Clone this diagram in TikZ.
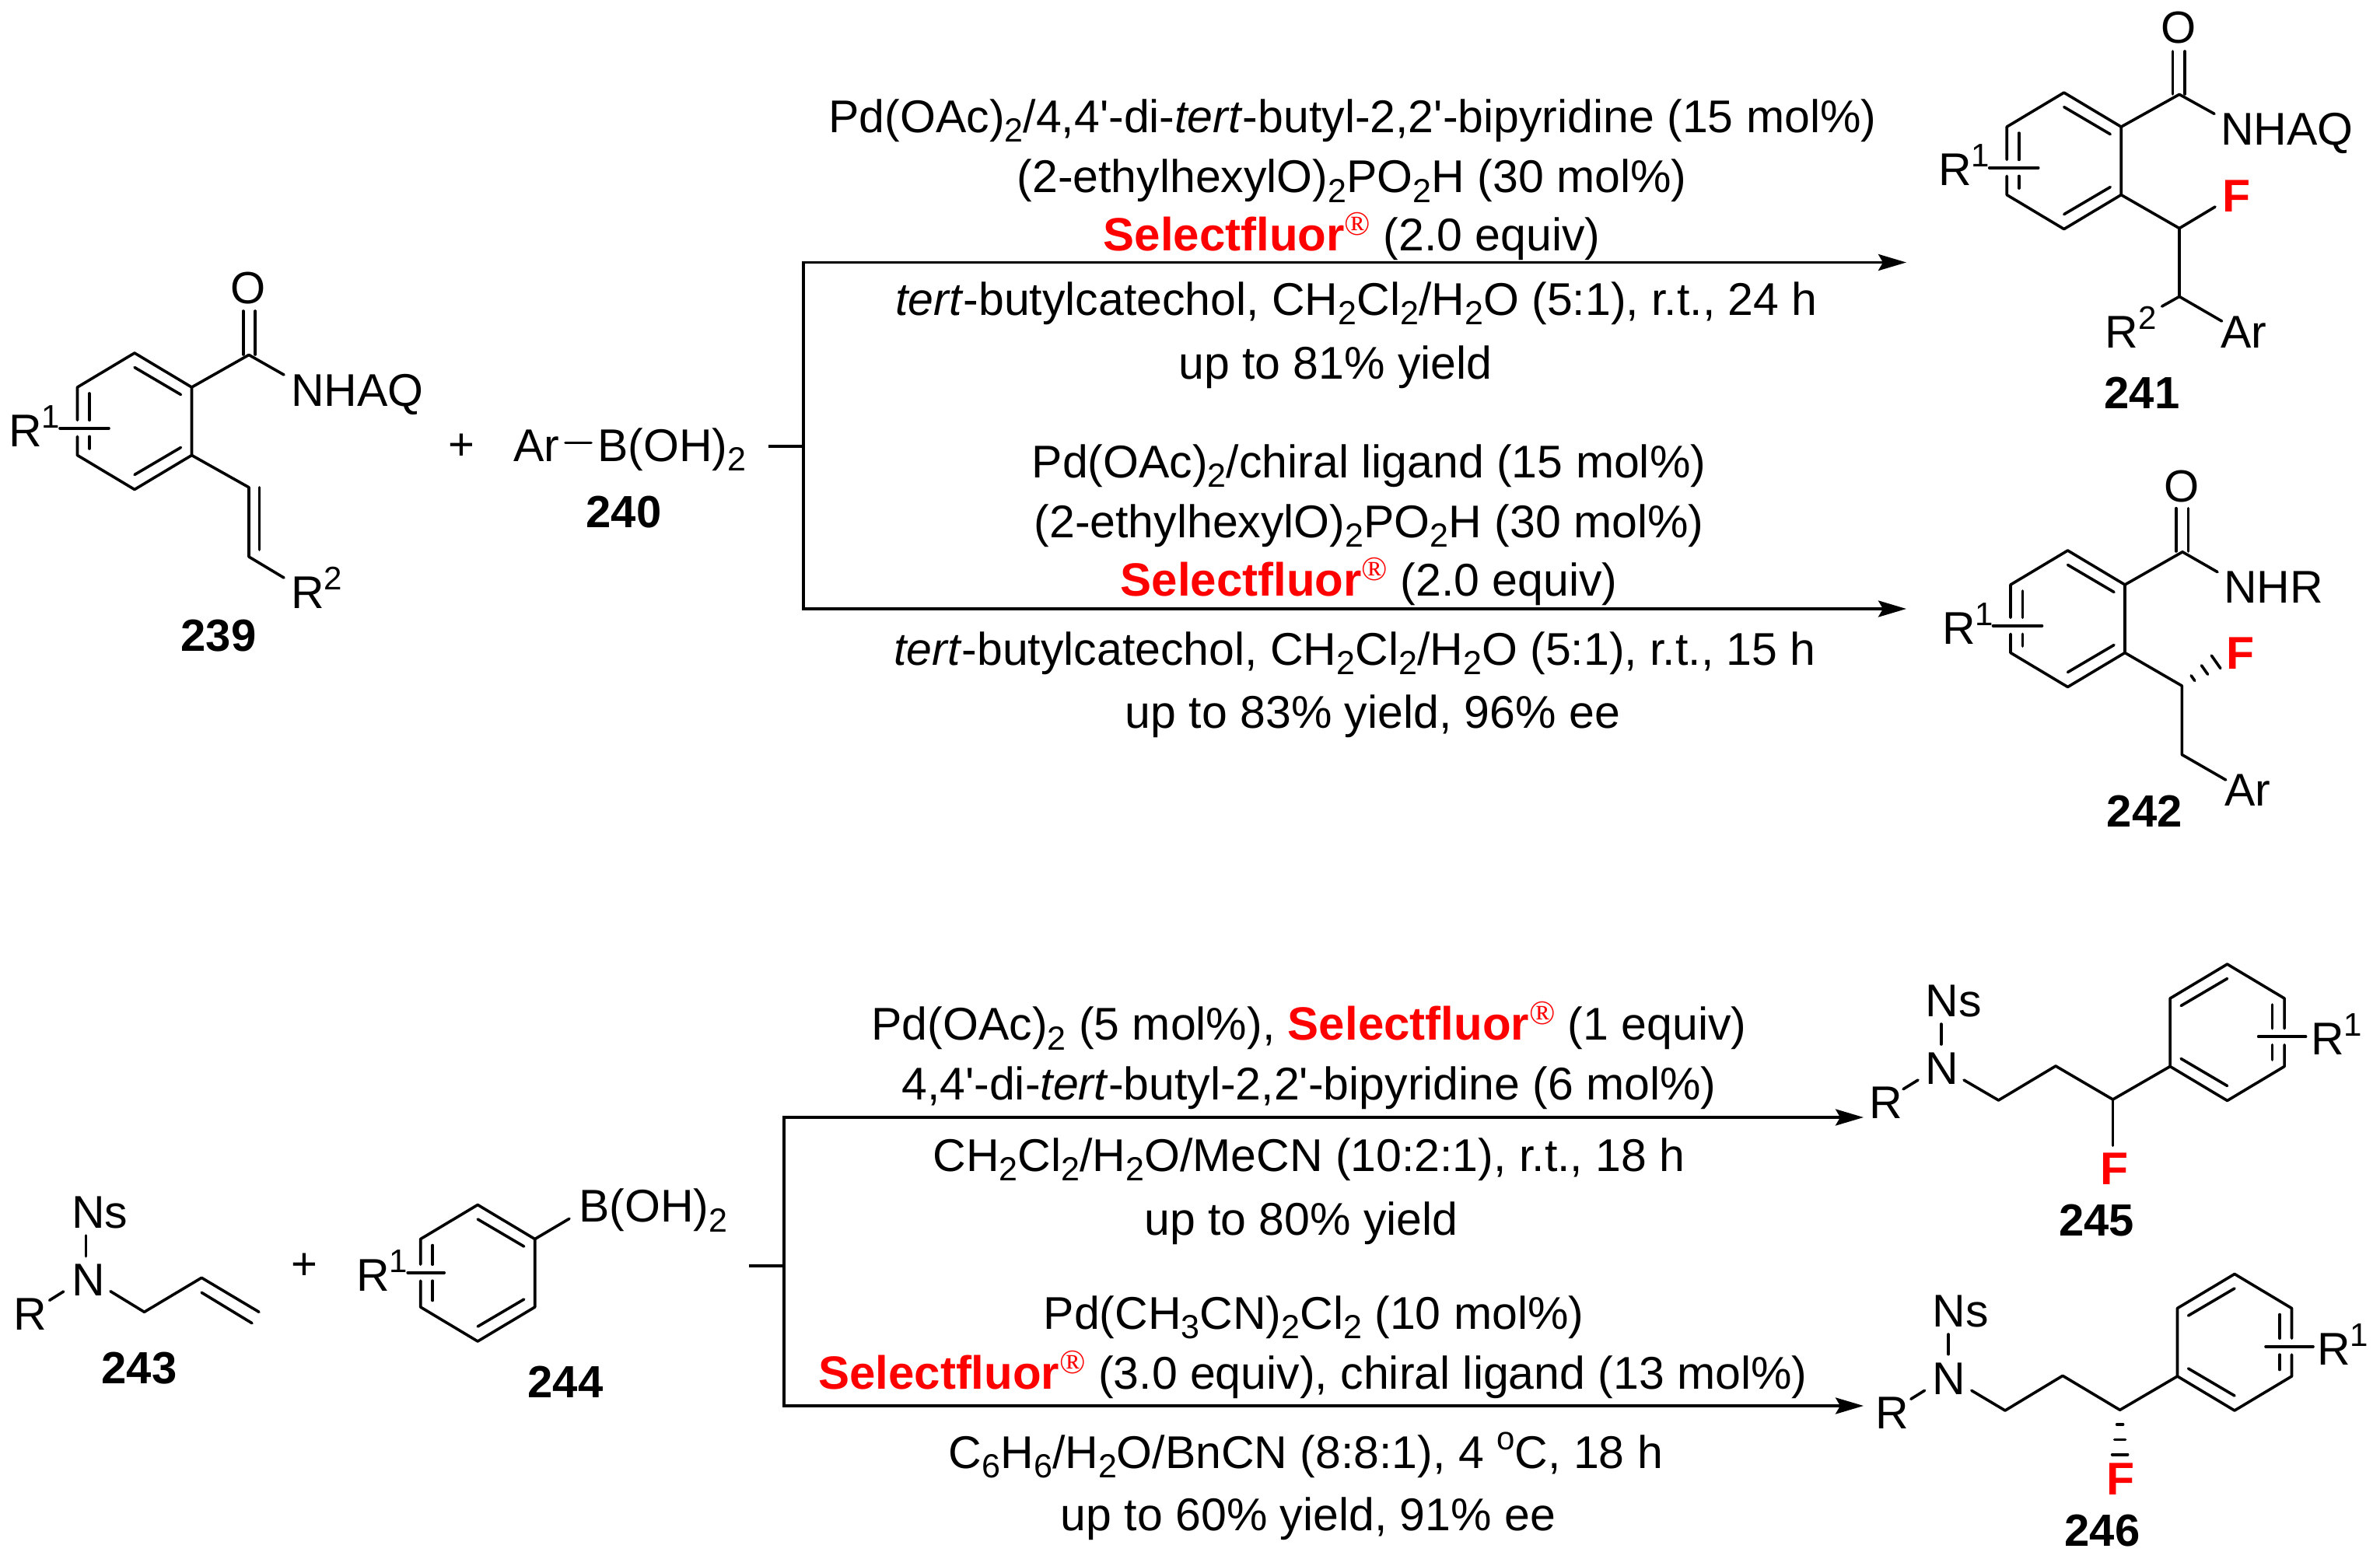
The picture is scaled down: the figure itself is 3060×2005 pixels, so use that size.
\documentclass[tikz,border=0pt]{standalone}
\usepackage{fontspec}
\setmainfont{Liberation Sans}
\newfontfamily\regfont{Liberation Serif}
\newfontfamily\plainsans{Liberation Sans}
\usetikzlibrary{arrows.meta,calc}
\newcommand{\lowr}[1]{\raisebox{-12.5pt}{\fontsize{43}{43}\selectfont #1}}
\newcommand{\uppr}[1]{\raisebox{24pt}{\fontsize{42}{42}\selectfont #1}}
\newcommand{\apos}{{\plainsans'}}
\newcommand{\sfluor}{\textcolor{fluorred}{\fontsize{60}{60}\selectfont\textbf{Selectfluor}\raisebox{20pt}{\fontsize{44}{44}\regfont\textregistered}}}
\definecolor{fluorred}{RGB}{255,0,0}
\tikzset{
  chem/.style = {inner sep=0pt, anchor=base west, xshift=-4pt, font=\fontsize{59}{60}\selectfont},
  rgt/.style = {inner sep=0pt, anchor=base, xshift=-8pt, font=\fontsize{59}{60}\selectfont},
  cpd/.style = {inner sep=0pt, anchor=base, font=\fontsize{58}{60}\selectfont\bfseries},
  sgn/.style = {inner sep=0pt, anchor=base, font=\fontsize{58}{60}\selectfont},
  fluor/.style = {chem, text=fluorred, font=\fontsize{59}{60}\selectfont\bfseries},
  bond/.style = {line width=3.6pt, line cap=round, line join=round},
  rxn/.style = {line width=3.8pt},
  rxnarrow/.style = {rxn, -{Stealth[length=36pt,width=21pt,inset=6pt]}}
}
% ring: name, x, y, flip, y of substituent bond, its near and far end
\newcommand{\benzring}[7]{
  \begin{scope}[shift={(#2,#3)},xscale=#4]
    \coordinate (#11) at (0,-87.5);
    \coordinate (#12) at (73.5,-43.5);
    \coordinate (#13) at (73.5,44);
    \coordinate (#14) at (0,88);
    \coordinate (#15) at (-73.5,44);
    \coordinate (#16) at (-73.5,-43.5);
    \draw[bond] (-73.5,#5-10.5) -- (#16) -- (#11) -- (#12) -- (#13) -- (#14) -- (#15) -- (-73.5,#5+10.5);
    \draw[bond] (-58,-35.5) -- (-58,#5-10.5) (-58,#5+10.5) -- (-58,35.5);
    \draw[bond] (0,-69) -- (59.5,-34) (59.5,34) -- (0,69);
    \draw[bond] (-#7,#5) -- (-#6,#5);
  \end{scope}
}
% hashed bond, three strokes growing towards the far end
\newcommand{\hashbond}[2]{
  \foreach \t/\w in {.30/4pt,.62/7pt,.93/10pt}
    \draw[bond] ($(#1)!\t!(#2)!\w!90:(#2)$) -- ($(#1)!\t!(#2)!\w!-90:(#2)$);
}
\begin{document}
\begin{tikzpicture}[x=1pt,y=-1pt]
  \useasboundingbox (0,0) rectangle (3060,2005);

  % 239
  \benzring{a}{173}{541.5}{1}{9.3}{33}{96}
  \coordinate (aC) at (320,456.4);
  \coordinate (aV1) at (320,626.8);
  \coordinate (aV2) at (320,716);
  \draw[bond] (a2) -- (aC) -- (365,482);
  \draw[bond] (312.8,400) -- (312.8,456) (328.2,400) -- (328.2,456);
  \draw[bond] (a3) -- (aV1) -- (aV2) -- (365,743);
  \draw[bond] (333.5,626.8) -- (333.5,707);
  \node[sgn] (aO) at (319.5,390.5) {O};
  \node[chem] (aNH) at (378,522) {NHAQ};
  \node[chem] (aR2) at (378,782) {R\uppr{2}};
  \node[chem] (aR1) at (15,574) {R\uppr{1}};
  \node[cpd] (n239) at (281,837.5) {239};

  % 240
  \node[sgn] (plusA) at (593,591) {+};
  \node[chem] (arA) at (664,593) {Ar};
  \node[chem] (boA) at (772,593) {B(OH)\lowr{2}};
  \coordinate (arA1) at (727,569.5);
  \coordinate (arA2) at (760,569.5);
  \draw[bond] (arA1) -- (arA2);
  \node[cpd] (n240) at (802,678.5) {240};

  % upper arrows
  \coordinate (u1) at (1033,337.5);
  \coordinate (u2) at (1033,783);
  \coordinate (um) at (1033,574);
  \coordinate (ut) at (988,574);
  \coordinate (ue1) at (2451,337.5);
  \coordinate (ue2) at (2451,783);
  \draw[rxn] (ut) -- (um);
  \draw[rxn,line cap=rect] (u1) -- (u2);
  \draw[rxnarrow] (u1) -- (ue1);
  \draw[rxnarrow] (u2) -- (ue2);

  \node[rgt] (c1a) at (1747,170) {Pd(OAc)\lowr{2}/4,4\apos-di-\textit{tert}-butyl-2,2\apos-bipyridine (15 mol\%)};
  \node[rgt] (c1b) at (1746,247.7) {(2-ethylhexylO)\lowr{2}PO\lowr{2}H (30 mol\%)};
  \node[rgt] (c1c) at (1746,322) {\sfluor{} (2.0 equiv)};
  \node[rgt] (c1d) at (1752,405) {\textit{tert}-butylcatechol, CH\lowr{2}Cl\lowr{2}/H\lowr{2}O (5:1), r.t., 24 h};
  \node[rgt] (c1e) at (1725,487.7) {up to 81\% yield};

  \node[rgt] (c2a) at (1768,614) {Pd(OAc)\lowr{2}/chiral ligand (15 mol\%)};
  \node[rgt] (c2b) at (1768,691) {(2-ethylhexylO)\lowr{2}PO\lowr{2}H (30 mol\%)};
  \node[rgt] (c2c) at (1768,766) {\sfluor{} (2.0 equiv)};
  \node[rgt] (c2d) at (1750,855) {\textit{tert}-butylcatechol, CH\lowr{2}Cl\lowr{2}/H\lowr{2}O (5:1), r.t., 15 h};
  \node[rgt] (c2e) at (1773,936) {up to 83\% yield, 96\% ee};

  % 241
  \benzring{b}{2653.7}{206.6}{1}{9.3}{33}{96}
  \coordinate (bC) at (2802,121.4);
  \coordinate (bF) at (2802,293.6);
  \coordinate (bA) at (2802,381.4);
  \draw[bond] (b2) -- (bC) -- (2847,146.4);
  \draw[bond] (2793.5,66) -- (2793.5,121) (2809,66) -- (2809,121);
  \draw[bond] (b3) -- (bF) -- (bA) -- (2856.6,413);
  \draw[bond] (bF) -- (2848,266);
  \draw[bond] (bA) -- (2779.6,394);
  \node[sgn] (bO) at (2801,55.5) {O};
  \node[chem] (bNH) at (2858.8,186.4) {NHAQ};
  \node[fluor] (bFl) at (2861,272) {F};
  \node[chem] (bAr) at (2859,447.5) {Ar};
  \node[chem] (bR2) at (2710.6,447.5) {R\uppr{2}};
  \node[chem] (bR1) at (2496,238.6) {R\uppr{1}};
  \node[cpd] (n241) at (2754,525) {241};

  % 242
  \benzring{c}{2658.5}{795.5}{1}{9.3}{33}{96}
  \coordinate (cC) at (2806,709.8);
  \coordinate (cF) at (2805.3,882);
  \coordinate (cA) at (2805.3,970.5);
  \coordinate (cH) at (2852.4,849);
  \draw[bond] (c2) -- (cC) -- (2851,735.6);
  \draw[bond] (2797.7,653.7) -- (2797.7,709) (2813.3,653.7) -- (2813.3,709);
  \draw[bond] (c3) -- (cF) -- (cA) -- (2861.7,1003);
  \hashbond{cF}{cH}
  \node[sgn] (cO) at (2805.3,645) {O};
  \node[chem] (cNH) at (2863,775) {NHR};
  \node[fluor] (cFl) at (2866,860.3) {F};
  \node[chem] (cAr) at (2864,1036) {Ar};
  \node[chem] (cR1) at (2501,828) {R\uppr{1}};
  \node[cpd] (n242) at (2757.3,1063.4) {242};

  % 243
  \node[chem] (dNs) at (96,1579.3) {Ns};
  \node[chem] (dN) at (96,1666) {N};
  \node[chem] (dR) at (21.4,1710) {R};
  \coordinate (d1) at (185.5,1687.3);
  \coordinate (d2) at (259.2,1643.3);
  \coordinate (d3) at (333,1687.3);
  \draw[bond] (110.5,1589) -- (110.5,1615.7);
  \draw[bond] (63.6,1672.3) -- (81.7,1661);
  \draw[bond] (142,1660.7) -- (d1) -- (d2) -- (d3);
  \draw[bond] (259.2,1662.3) -- (324,1701.7);
  \node[cpd] (n243) at (179,1779.3) {243};

  % 244
  \node[sgn] (plusB) at (391.8,1645) {+};
  \benzring{e}{614.2}{1637}{1}{-0.3}{43}{90}
  \draw[bond] (e2) -- (732,1567.3);
  \node[chem] (eBo) at (748,1571.7) {B(OH)\lowr{2}};
  \node[chem] (eR1) at (462,1660) {R\uppr{1}};
  \node[cpd] (n244) at (727,1797.3) {244};

  % lower arrows
  \coordinate (l1) at (1008,1437);
  \coordinate (l2) at (1008,1808);
  \coordinate (lm) at (1008,1628);
  \coordinate (lt) at (962.5,1628);
  \coordinate (le1) at (2396,1437);
  \coordinate (le2) at (2396,1808);
  \draw[rxn] (lt) -- (lm);
  \draw[rxn,line cap=rect] (l1) -- (l2);
  \draw[rxnarrow] (l1) -- (le1);
  \draw[rxnarrow] (l2) -- (le2);

  \node[rgt] (c3a) at (1691,1337.6) {Pd(OAc)\lowr{2} (5 mol\%), \sfluor{} (1 equiv)};
  \node[rgt] (c3b) at (1691,1414) {4,4\apos-di-\textit{tert}-butyl-2,2\apos-bipyridine (6 mol\%)};
  \node[rgt] (c3c) at (1691,1506) {CH\lowr{2}Cl\lowr{2}/H\lowr{2}O/MeCN (10:2:1), r.t., 18 h};
  \node[rgt] (c3d) at (1681,1588) {up to 80\% yield};

  \node[rgt] (c4a) at (1697,1709) {Pd(CH\lowr{3}CN)\lowr{2}Cl\lowr{2} (10 mol\%)};
  \node[rgt] (c4b) at (1696,1786) {\sfluor{} (3.0 equiv), chiral ligand (13 mol\%)};
  \node[rgt] (c4c) at (1687,1888) {C\lowr{6}H\lowr{6}/H\lowr{2}O/BnCN (8:8:1), 4 \uppr{o}C, 18 h};
  \node[rgt] (c4d) at (1690,1968) {up to 60\% yield, 91\% ee};

  % 245
  \benzring{f}{2863.6}{1327.5}{-1}{5.7}{40}{101}
  \node[chem] (fNs) at (2479.7,1307.3) {Ns};
  \node[chem] (fN) at (2479.7,1394) {N};
  \node[chem] (fR) at (2407,1438) {R};
  \coordinate (f7) at (2569.5,1415);
  \coordinate (f8) at (2643,1371);
  \coordinate (f9) at (2716.5,1414);
  \draw[bond] (2495.8,1317) -- (2495.8,1343);
  \draw[bond] (2447,1400.7) -- (2466,1389);
  \draw[bond] (2525,1389) -- (f7) -- (f8) -- (f9) -- (f3);
  \draw[bond] (f9) -- (2716.5,1473.3);
  \node[fluor] (fFl) at (2704,1523.3) {F};
  \node[chem] (fR1) at (2975,1356) {R\uppr{1}};
  \node[cpd] (n245) at (2695.5,1589) {245};

  % 246
  \benzring{g}{2873}{1726}{-1}{5.7}{40}{101}
  \node[chem] (gNs) at (2488.4,1706) {Ns};
  \node[chem] (gN) at (2488.4,1793.3) {N};
  \node[chem] (gR) at (2415.6,1837.3) {R};
  \coordinate (g7) at (2578,1814);
  \coordinate (g8) at (2652,1769.3);
  \coordinate (g9) at (2725.6,1813.3);
  \coordinate (gH) at (2725.6,1875);
  \draw[bond] (2505,1716) -- (2505,1741.7);
  \draw[bond] (2456.8,1799.3) -- (2474.5,1788.3);
  \draw[bond] (2534.8,1788.3) -- (g7) -- (g8) -- (g9) -- (g3);
  \hashbond{g9}{gH}
  \node[fluor] (gFl) at (2712.6,1922.3) {F};
  \node[chem] (gR1) at (2982.8,1755) {R\uppr{1}};
  \node[cpd] (n246) at (2703,1988) {246};
\end{tikzpicture}
\end{document}
